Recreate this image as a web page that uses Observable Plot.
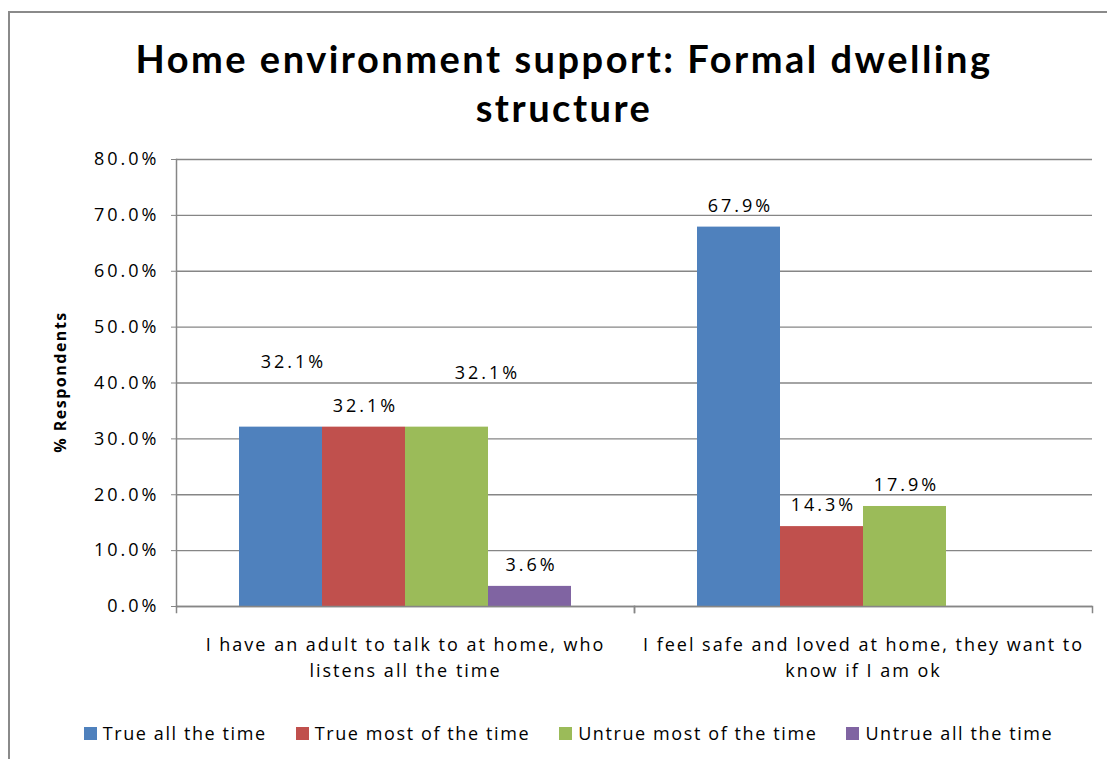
<!DOCTYPE html>
<html>
<head>
<meta charset="utf-8">
<script src="https://cdn.jsdelivr.net/npm/d3@7"></script>
<script src="https://cdn.jsdelivr.net/npm/@observablehq/plot@0.6"></script>
<style>
  html, body { margin: 0; padding: 0; background: #fff; width: 1107px; height: 759px; overflow: hidden; }
  #box { position: absolute; left: 8px; top: 11px; width: 1120px; height: 780px; border-left: 2px solid #8a8a8a; border-top: 2px solid #8a8a8a; }
  .title { position: absolute; left: 114px; width: 900px; text-align: center; font-family: Lato, sans-serif; font-weight: bold; font-size: 38px; line-height: 44px; letter-spacing: 2.5px; color: #000; white-space: nowrap; }
  #t1 { top: 36px; }
  #t2 { top: 85px; }
  #chart { position: absolute; left: 0; top: 139px; }
  #ylab { position: absolute; left: 60px; top: 382px; transform: translate(-50%, -50%) rotate(-90deg); font-family: "Open Sans", sans-serif; font-weight: bold; font-size: 16px; letter-spacing: 1.5px; white-space: nowrap; color: #000; }
  #legend { position: absolute; left: 0; top: 721px; width: 1107px; display: flex; justify-content: center; gap: 29px; font-family: "Open Sans", sans-serif; font-size: 18px; letter-spacing: 1.6px; color: #000; padding-left: 30px; box-sizing: border-box; }
  #legend .item { display: flex; align-items: center; gap: 6px; }
  #legend .sw { width: 13px; height: 13px; display: inline-block; }
</style>
</head>
<body>
<div id="box"></div>
<div class="title" id="t1">Home environment support: Formal dwelling</div>
<div class="title" id="t2">structure</div>
<div id="chart"></div>
<div id="ylab">% Respondents</div>
<div id="legend"></div>
<script>
const categories = ["I have an adult to talk to at home, who listens all the time", "I feel safe and loved at home, they want to know if I am ok"];
const categoryTickLabels = ["I have an adult to talk to at home, who\nlistens all the time", "I feel safe and loved at home, they want to\nknow if I am ok"];
const series = ["True all the time", "True most of the time", "Untrue most of the time", "Untrue all the time"];
const seriesColors = ["#4F81BD", "#C0504D", "#9BBB59", "#8064A2"];
const adultTalkValues = [32.1, 32.1, 32.1, 3.6];
const safeLovedValues = [67.9, 14.3, 17.9, null];
const yTickValues = [0, 10, 20, 30, 40, 50, 60, 70, 80];

const valuesByCategory = [adultTalkValues, safeLovedValues];
const rows = [];
categories.forEach((c, ci) => {
  series.forEach((s, si) => {
    const v = valuesByCategory[ci][si];
    if (v != null) rows.push({category: c, series: s, value: v, ci, si});
  });
});

// Excel-style label nudges for overlapping labels (styling only)
const isLiftedBlue = d => d.ci === 0 && d.si === 0;
const isLiftedGreen = d => d.ci === 0 && d.si === 2;
const isNormal = d => !isLiftedBlue(d) && !isLiftedGreen(d);

const font = "'Open Sans', sans-serif";
const gray = "#868686";
const fmt = d => d.value.toFixed(1) + "%";

const plot = Plot.plot({
  width: 1107,
  height: 551,
  marginLeft: 175,
  marginRight: 15,
  marginTop: 20,
  marginBottom: 84,
  style: {fontFamily: font, fontSize: "18px", color: "#000", background: "transparent"},
  fx: {domain: categories, padding: 0, label: null, axis: null},
  x: {domain: series, paddingInner: 0, paddingOuter: 0.745, axis: null},
  y: {domain: [0, 80], axis: null},
  color: {domain: series, range: seriesColors},
  marks: [
    Plot.gridY(yTickValues, {stroke: gray, strokeOpacity: 1, strokeWidth: 1.3}),
    Plot.barY(rows, {fx: "category", x: "series", y: "value", fill: "series"}),
    Plot.ruleY([0], {stroke: gray, strokeWidth: 1.5}),
    Plot.frame({anchor: "left", facetAnchor: "left", stroke: gray, strokeWidth: 1.5}),
    Plot.frame({anchor: "left", stroke: gray, strokeWidth: 1.5, insetTop: 447, insetBottom: -6}),
    Plot.frame({anchor: "right", stroke: gray, strokeWidth: 1.5, insetTop: 447, insetBottom: -6}),
    Plot.axisY(yTickValues, {
      tickFormat: d => d.toFixed(1) + "%", tickSize: 5, tickPadding: 12,
      stroke: gray, fontSize: 18, label: null, className: "ytick"
    }),
    Plot.axisFx({
      anchor: "bottom",
      tickFormat: d => categoryTickLabels[categories.indexOf(d)],
      tickSize: 0, tickPadding: 26, fontSize: 18, lineHeight: 1.45, label: null, className: "fxtick"
    }),
    Plot.text(rows.filter(isNormal), {fx: "category", x: "series", y: "value", text: fmt, dy: -21, dx: 1.5, fontSize: 18, className: "num"}),
    Plot.text(rows.filter(isLiftedBlue), {fx: "category", x: "series", y: "value", text: fmt, dy: -65, dx: 12.5, fontSize: 18, className: "num"}),
    Plot.text(rows.filter(isLiftedGreen), {fx: "category", x: "series", y: "value", text: fmt, dy: -54, dx: 40.5, fontSize: 18, className: "num"})
  ]
});
document.getElementById("chart").appendChild(plot);
// letter spacing to match the reference's wide text rendering
plot.querySelectorAll(".ytick text, .num text").forEach(t => t.style.letterSpacing = "3px");
plot.querySelectorAll(".fxtick text").forEach(t => t.style.letterSpacing = "2px");

const legend = document.getElementById("legend");
series.forEach((s, i) => {
  const item = document.createElement("div");
  item.className = "item";
  const sw = document.createElement("span");
  sw.className = "sw";
  sw.style.background = seriesColors[i];
  const t = document.createElement("span");
  t.textContent = s;
  item.appendChild(sw);
  item.appendChild(t);
  legend.appendChild(item);
});
</script>
</body>
</html>
